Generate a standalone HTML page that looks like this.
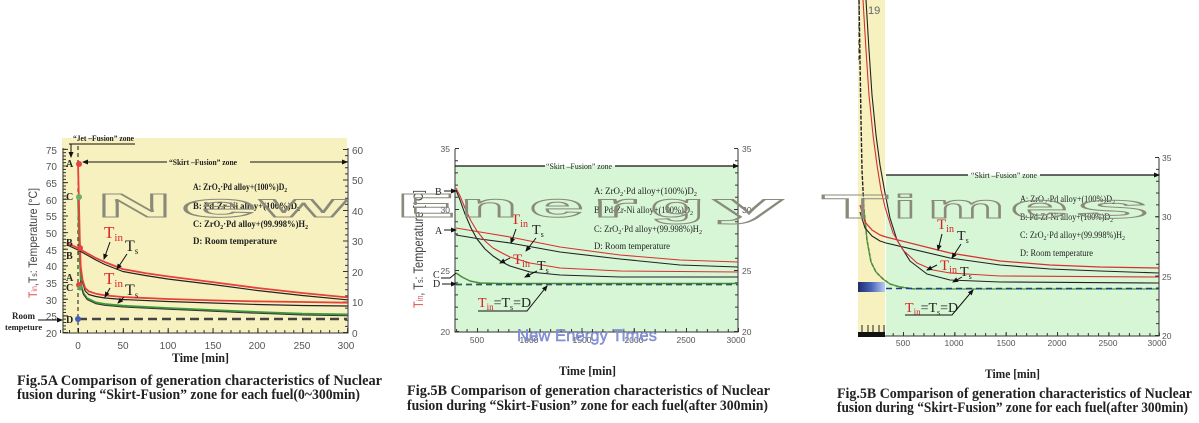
<!DOCTYPE html>
<html><head><meta charset="utf-8"><style>
html,body{margin:0;padding:0;background:#fff;}
svg{display:block;}
</style></head><body>
<svg width="1199" height="423" viewBox="0 0 1199 423" xmlns="http://www.w3.org/2000/svg">
<defs>
<marker id="ah" markerWidth="7" markerHeight="6" refX="6" refY="3" orient="auto" markerUnits="userSpaceOnUse"><path d="M0,0 L7,3 L0,6 z" fill="#111"/></marker>
<marker id="ahs" markerWidth="6" markerHeight="5" refX="5" refY="2.5" orient="auto" markerUnits="userSpaceOnUse"><path d="M0,0 L6,2.5 L0,5 z" fill="#111"/></marker>
<linearGradient id="bl" x1="0" x2="1" y1="0" y2="0"><stop offset="0" stop-color="#1e2c70"/><stop offset="0.5" stop-color="#4a66b8"/><stop offset="1" stop-color="#b8ccf2"/></linearGradient>
</defs>

<!-- ================= LEFT CHART (Fig.5A) ================= -->
<rect x="62" y="138" width="285" height="195" fill="#f6f1bf"/>
<g stroke="#333" fill="none">
  <line x1="63" y1="148" x2="63" y2="333.5" stroke-width="1"/>
  <line x1="348" y1="148" x2="348" y2="333.5" stroke-width="1"/>
  <line x1="63" y1="333" x2="348" y2="333" stroke-width="1"/>
  <line x1="64.5" y1="333" x2="64.5" y2="148" stroke-width="3" stroke-dasharray="1 2.33"/>
  <line x1="65.5" y1="333" x2="65.5" y2="148" stroke-width="5" stroke-dasharray="1 15.65"/>
  <line x1="346.5" y1="333" x2="346.5" y2="148" stroke-width="3" stroke-dasharray="1 5.1"/>
  <line x1="345.5" y1="333" x2="345.5" y2="148" stroke-width="5" stroke-dasharray="1 29.5"/>
  <line x1="60.06" y1="331.5" x2="349" y2="331.5" stroke-width="3" stroke-dasharray="1 7.97"/>
  <line x1="78" y1="330.5" x2="349" y2="330.5" stroke-width="5" stroke-dasharray="1 43.85"/>
</g>
<g font-family="Liberation Sans, sans-serif" font-size="10" fill="#555" text-anchor="end">
  <text x="57" y="154">75</text><text x="57" y="170">70</text><text x="57" y="187">65</text><text x="57" y="204">60</text>
  <text x="57" y="220">55</text><text x="57" y="237">50</text><text x="57" y="254">45</text><text x="57" y="270">40</text>
  <text x="57" y="287">35</text><text x="57" y="304">30</text><text x="57" y="320">25</text><text x="57" y="337">20</text>
</g>
<g font-family="Liberation Sans, sans-serif" font-size="10" fill="#555">
  <text x="352" y="154">60</text><text x="352" y="184">50</text><text x="352" y="215">40</text><text x="352" y="245">30</text>
  <text x="352" y="276">20</text><text x="352" y="306">10</text><text x="352" y="337">0</text>
</g>
<g font-family="Liberation Sans, sans-serif" font-size="10" fill="#555" text-anchor="middle">
  <text x="78" y="349">0</text><text x="123" y="349">50</text><text x="168" y="349">100</text><text x="213" y="349">150</text>
  <text x="257" y="349">200</text><text x="302" y="349">250</text><text x="346" y="349">300</text>
</g>
<text x="172" y="362" font-family="Liberation Serif, serif" font-weight="bold" font-size="13" fill="#222" textLength="57" lengthAdjust="spacingAndGlyphs">Time [min]</text>
<text transform="translate(37,243) rotate(-90)" text-anchor="middle" font-family="Liberation Sans, sans-serif" font-size="12" fill="#444" textLength="110" lengthAdjust="spacingAndGlyphs"><tspan fill="#e05050">T</tspan><tspan fill="#e05050" font-size="8">in</tspan>,T<tspan font-size="8">s</tspan>: Temperature [°C]</text>

<!-- top annotations -->
<text x="73" y="141" font-family="Liberation Serif, serif" font-weight="bold" font-size="8.5" fill="#222" textLength="61" lengthAdjust="spacingAndGlyphs">“Jet –Fusion” zone</text>
<line x1="69" y1="144" x2="135" y2="144" stroke="#111" stroke-width="1"/>
<line x1="71" y1="144" x2="71" y2="157" stroke="#111" stroke-width="1" marker-end="url(#ahs)"/>
<line x1="78" y1="146" x2="78" y2="333" stroke="#111" stroke-width="1" stroke-dasharray="4 3"/>
<text x="169" y="165" font-family="Liberation Serif, serif" font-weight="bold" font-size="8.5" fill="#222" textLength="68" lengthAdjust="spacingAndGlyphs">“Skirt –Fusion” zone</text>
<line x1="167" y1="162" x2="83" y2="162" stroke="#111" stroke-width="1" marker-end="url(#ahs)"/>
<line x1="250" y1="162" x2="347" y2="162" stroke="#111" stroke-width="1" marker-end="url(#ahs)"/>

<!-- legend -->
<g font-family="Liberation Serif, serif" font-weight="bold" font-size="9.5" fill="#222">
  <text x="193" y="190" textLength="94" lengthAdjust="spacingAndGlyphs">A: ZrO<tspan font-size="6.5" dy="2">2</tspan><tspan dy="-2">·Pd alloy+(100%)D</tspan><tspan font-size="6.5" dy="2">2</tspan></text>
  <text x="193" y="209" textLength="107" lengthAdjust="spacingAndGlyphs">B: Pd-Zr-Ni alloy+(100%)D<tspan font-size="6.5" dy="2">2</tspan></text>
  <text x="193" y="227" textLength="115" lengthAdjust="spacingAndGlyphs">C: ZrO<tspan font-size="6.5" dy="2">2</tspan><tspan dy="-2">·Pd alloy+(99.998%)H</tspan><tspan font-size="6.5" dy="2">2</tspan></text>
  <text x="193" y="244" textLength="84" lengthAdjust="spacingAndGlyphs">D: Room temperature</text>
</g>

<!-- curves left -->
<g fill="none" stroke-linejoin="round" stroke-linecap="round">
  <polyline stroke="#3a9a3a" stroke-width="1.8" points="78,196.5 78.9,233.1 79.8,259.7 80.7,279.7 81.6,286.4 83.4,293 87,298 95.9,302.4 104.9,304 122.9,305.7 167.7,308 212.6,310 257.4,312 302.3,313.7 347.1,314.4"/>
  <polyline stroke="#333" stroke-width="1" points="80.7,281 81.6,288 83.4,294.5 87,299.5 95.9,303.8 104.9,305.4 122.9,307 167.7,309.3 212.6,311.3 257.4,313.3 302.3,315 347.1,315.7"/>
  <polyline stroke="#222" stroke-width="1.2" points="80.7,268 82.5,282 85.2,291 88.8,294.5 95.9,296.5 104.9,298 122.9,299.5 167.7,301.5 212.6,303 257.4,304.5 302.3,305.5 347.1,306"/>
  <polyline stroke="#e8403a" stroke-width="1.8" points="78,163.2 78.9,199.8 79.8,239.8 80.7,266.4 82.5,279.7 85.2,288 88.8,291.4 95.9,293.7 104.9,295.4 122.9,297 167.7,299 212.6,300.4 257.4,301.4 302.3,302 347.1,302.7"/>
  <polyline stroke="#222" stroke-width="1.2" points="67.2,245 78,250 87,255 95.9,260 104.9,264.5 122.9,271.5 145.3,275.5 167.7,279 212.6,284.5 257.4,290.5 302.3,295.5 347.1,299.8"/>
  <polyline stroke="#e8403a" stroke-width="1.8" points="67.2,243.1 78,248.1 87,253.1 95.9,258.1 104.9,262.1 122.9,269.1 145.3,273.1 167.7,276.4 212.6,282.1 257.4,288 302.3,293 347.1,297.4"/>
</g>
<line x1="78" y1="319" x2="347" y2="319" stroke="#444" stroke-width="2.5" stroke-dasharray="9 5"/>
<circle cx="79" cy="164" r="3" fill="#e84040"/>
<circle cx="79" cy="197" r="3" fill="#6ab06a"/>
<circle cx="80" cy="248" r="3" fill="#e84040"/>
<circle cx="79" cy="285" r="3" fill="#e84040"/>
<circle cx="80" cy="288" r="2.5" fill="#5aa05a"/>
<circle cx="78" cy="319" r="3" fill="#4060c0"/>
<g font-family="Liberation Serif, serif" font-weight="bold" font-size="10" fill="#222">
  <text x="66" y="167">A</text><text x="66" y="200">C</text><text x="66" y="246">B</text><text x="66" y="259">B</text>
  <text x="66" y="281">A</text><text x="66" y="291">C</text><text x="66" y="323">D</text>
  <text x="12" y="319" font-size="9">Room</text><text x="5" y="330" font-size="8.5">tempeture</text>
</g>
<line x1="38" y1="320" x2="62" y2="320" stroke="#111" stroke-width="1" marker-end="url(#ahs)"/>
<!-- Tin / Ts labels left -->
<g font-family="Liberation Serif, serif">
  <text x="104" y="238" font-size="17" fill="#e02828">T<tspan font-size="11" dy="3">in</tspan></text>
  <text x="125" y="251" font-size="16" fill="#222">T<tspan font-size="9" dy="3">s</tspan></text>
  <text x="104" y="284" font-size="17" fill="#e02828">T<tspan font-size="11" dy="3">in</tspan></text>
  <text x="125" y="295" font-size="16" fill="#222">T<tspan font-size="9" dy="3">s</tspan></text>
</g>
<g stroke="#111" stroke-width="1">
  <line x1="110" y1="242" x2="104" y2="259" marker-end="url(#ahs)"/>
  <line x1="127" y1="254" x2="117" y2="269" marker-end="url(#ahs)"/>
  <line x1="110" y1="288" x2="105" y2="297" marker-end="url(#ahs)"/>
  <line x1="124" y1="297" x2="118" y2="303" marker-end="url(#ahs)"/>
</g>

<!-- captions left -->
<g font-family="Liberation Serif, serif" font-weight="bold" font-size="14.5" fill="#222">
  <text x="17" y="385" textLength="365" lengthAdjust="spacingAndGlyphs">Fig.5A  Comparison of generation characteristics of Nuclear</text>
  <text x="17" y="399" textLength="343" lengthAdjust="spacingAndGlyphs">fusion during “Skirt-Fusion” zone for each fuel(0~300min)</text>
</g>

<!-- ================= MIDDLE CHART (Fig.5B) ================= -->
<rect x="455" y="166" width="283" height="166" fill="#d7f6d6"/>
<g stroke="#333" fill="none">
  <line x1="455" y1="149" x2="455" y2="332.5" stroke-width="1"/>
  <line x1="738" y1="149" x2="738" y2="332.5" stroke-width="1"/>
  <line x1="455" y1="332" x2="738" y2="332" stroke-width="1"/>
  <line x1="456.5" y1="332" x2="456.5" y2="148" stroke-width="3" stroke-dasharray="1 11.2"/>
  <line x1="457" y1="332" x2="457" y2="148" stroke-width="4" stroke-dasharray="1 60"/>
  <line x1="736.5" y1="332" x2="736.5" y2="148" stroke-width="3" stroke-dasharray="1 11.2"/>
  <line x1="736" y1="332" x2="736" y2="148" stroke-width="4" stroke-dasharray="1 60"/>
  <line x1="456.1" y1="330.5" x2="739" y2="330.5" stroke-width="3" stroke-dasharray="1 9.45"/>
  <line x1="477" y1="330" x2="739" y2="330" stroke-width="4" stroke-dasharray="1 51.25"/>
</g>
<line x1="455" y1="166" x2="545" y2="166" stroke="#111" stroke-width="1.2"/>
<line x1="615" y1="166" x2="738" y2="166" stroke="#111" stroke-width="1.2" marker-end="url(#ahs)"/>
<text x="546" y="169" font-family="Liberation Serif, serif" font-size="8.5" fill="#222" textLength="66" lengthAdjust="spacingAndGlyphs">“Skirt –Fusion” zone</text>
<g font-family="Liberation Sans, sans-serif" font-size="8.5" fill="#555">
  <text x="450" y="152" text-anchor="end">35</text><text x="450" y="213" text-anchor="end">30</text>
  <text x="450" y="274" text-anchor="end">25</text><text x="450" y="335" text-anchor="end">20</text>
  <text x="742" y="152">35</text><text x="742" y="213">30</text><text x="742" y="274">25</text><text x="742" y="335">20</text>
</g>
<g font-family="Liberation Sans, sans-serif" font-size="8.5" fill="#555" text-anchor="middle">
  <text x="477" y="343">500</text><text x="529" y="343">1000</text><text x="582" y="343">1500</text>
  <text x="634" y="343">2000</text><text x="686" y="343">2500</text><text x="736" y="343">3000</text>
</g>
<text x="559" y="375" font-family="Liberation Serif, serif" font-weight="bold" font-size="13" fill="#222" textLength="57" lengthAdjust="spacingAndGlyphs">Time [min]</text>
<text transform="translate(423,249) rotate(-90)" text-anchor="middle" font-family="Liberation Sans, sans-serif" font-size="14" fill="#444" textLength="118" lengthAdjust="spacingAndGlyphs"><tspan fill="#e05050">T</tspan><tspan fill="#e05050" font-size="9">in</tspan>, T<tspan font-size="9">s</tspan>: Temperature [°C]</text>

<g font-family="Liberation Serif, serif" font-size="9" fill="#222">
  <text x="594" y="194" textLength="103" lengthAdjust="spacingAndGlyphs">A: ZrO<tspan font-size="6.5" dy="2">2</tspan><tspan dy="-2">·Pd alloy+(100%)D</tspan><tspan font-size="6.5" dy="2">2</tspan></text>
  <text x="594" y="213" textLength="99" lengthAdjust="spacingAndGlyphs">B: Pd-Zr-Ni alloy+(100%)D<tspan font-size="6.5" dy="2">2</tspan></text>
  <text x="594" y="232" textLength="108" lengthAdjust="spacingAndGlyphs">C: ZrO<tspan font-size="6.5" dy="2">2</tspan><tspan dy="-2">·Pd alloy+(99.998%)H</tspan><tspan font-size="6.5" dy="2">2</tspan></text>
  <text x="594" y="249" textLength="76" lengthAdjust="spacingAndGlyphs">D: Room temperature</text>
</g>

<g fill="none" stroke-linejoin="round" stroke-width="1.1">
  <polyline stroke="#4a8a3a" stroke-width="1.5" points="456,273 462,277 470,281 480,283 500,283.5 738,283.5"/>
  <polyline stroke="#222" points="456,235 480,239 510,243 560,252 620,259 680,265 738,267"/>
  <polyline stroke="#d83030" points="456,228 480,232 510,237 560,247 620,255 680,260 738,262"/>
  <polyline stroke="#222" points="456,190 460,200 465,214 471,228 477,239 485,249 493,256 502,262 510,266 530,272 560,275 620,277 738,277"/>
  <polyline stroke="#d83030" points="456,188 460,196 465,208 471,221 477,231 485,241 493,248 502,253 510,257 530,263 560,268 620,271 738,272"/>
</g>
<line x1="456" y1="284.5" x2="738" y2="284.5" stroke="#2f5a5a" stroke-width="1.8" stroke-dasharray="6 4"/>
<g font-family="Liberation Serif, serif" font-size="10" fill="#222">
  <text x="435" y="195">B</text><text x="435" y="234">A</text><text x="433" y="278">C</text><text x="433" y="287">D</text>
</g>
<g stroke="#111" stroke-width="1">
  <line x1="444" y1="191" x2="456" y2="191" marker-end="url(#ahs)"/>
  <line x1="444" y1="230" x2="456" y2="230" marker-end="url(#ahs)"/>
  <polyline fill="none" points="441,278 450,278 456,273"/>
  <line x1="442" y1="284" x2="456" y2="284" marker-end="url(#ahs)"/>
</g>
<g font-family="Liberation Serif, serif">
  <text x="511" y="224" font-size="15" fill="#d82020">T<tspan font-size="10" dy="3">in</tspan></text>
  <text x="532" y="234" font-size="14" fill="#222">T<tspan font-size="8" dy="3">s</tspan></text>
  <text x="513" y="264" font-size="15" fill="#d82020">T<tspan font-size="10" dy="3">in</tspan></text>
  <text x="537" y="270" font-size="14" fill="#222">T<tspan font-size="8" dy="3">s</tspan></text>
  <text x="478" y="307" font-size="14" fill="#222"><tspan fill="#d82020">T</tspan><tspan fill="#d82020" font-size="9" dy="3">in</tspan><tspan dy="-3">=T</tspan><tspan font-size="8" dy="3">s</tspan><tspan dy="-3">=D</tspan></text>
</g>
<g stroke="#111" stroke-width="1" fill="none">
  <line x1="516" y1="229" x2="511" y2="243" marker-end="url(#ahs)"/>
  <line x1="536" y1="238" x2="526" y2="251" marker-end="url(#ahs)"/>
  <line x1="510" y1="258" x2="500" y2="263" marker-end="url(#ahs)"/>
  <line x1="537" y1="271" x2="525" y2="277" marker-end="url(#ahs)"/>
  <polyline points="478,311 527,311 547,286" marker-end="url(#ahs)"/>
</g>
<g font-family="Liberation Serif, serif" font-weight="bold" font-size="14.5" fill="#222">
  <text x="407" y="395" textLength="363" lengthAdjust="spacingAndGlyphs">Fig.5B  Comparison of generation characteristics of Nuclear</text>
  <text x="407" y="410" textLength="361" lengthAdjust="spacingAndGlyphs">fusion during “Skirt-Fusion” zone for each fuel(after 300min)</text>
</g>

<!-- ================= RIGHT CHART ================= -->
<rect x="858" y="0" width="27" height="332" fill="#f6f1bf"/>
<rect x="886" y="175" width="273" height="161" fill="#d7f6d6"/>
<rect x="858" y="332" width="27" height="5" fill="#111"/>
<g stroke="#222" stroke-width="1">
  <line x1="862" y1="325" x2="862" y2="332"/><line x1="868" y1="325" x2="868" y2="332"/>
  <line x1="873" y1="325" x2="873" y2="332"/><line x1="879" y1="325" x2="879" y2="332"/><line x1="884" y1="325" x2="884" y2="332"/>
</g>
<rect x="858" y="282" width="27" height="10" fill="url(#bl)"/>
<text x="868" y="14" font-family="Liberation Sans, sans-serif" font-size="11" fill="#666">19</text>
<line x1="859" y1="0" x2="859" y2="60" stroke="#333" stroke-width="1" stroke-dasharray="5 3"/>
<g stroke="#333" fill="none">
  <line x1="1159" y1="158" x2="1159" y2="336.5" stroke-width="1"/>
  <line x1="885" y1="336" x2="1159" y2="336" stroke-width="1"/>
  <line x1="1157.5" y1="336" x2="1157.5" y2="157" stroke-width="3" stroke-dasharray="1 10.87"/>
  <line x1="1157" y1="336" x2="1157" y2="157" stroke-width="4" stroke-dasharray="1 58.35"/>
  <line x1="892.7" y1="334.5" x2="1160" y2="334.5" stroke-width="3" stroke-dasharray="1 9.27"/>
  <line x1="903" y1="334" x2="1160" y2="334" stroke-width="4" stroke-dasharray="1 50.35"/>
</g>
<line x1="886" y1="175" x2="968" y2="175" stroke="#111" stroke-width="1.2"/>
<line x1="1040" y1="175" x2="1159" y2="175" stroke="#111" stroke-width="1.2" marker-end="url(#ahs)"/>
<text x="971" y="178" font-family="Liberation Serif, serif" font-size="8.5" fill="#222" textLength="66" lengthAdjust="spacingAndGlyphs">“Skirt –Fusion” zone</text>
<g font-family="Liberation Sans, sans-serif" font-size="8.5" fill="#555">
  <text x="1162" y="161">35</text><text x="1162" y="220">30</text><text x="1162" y="280">25</text><text x="1162" y="339">20</text>
</g>
<g font-family="Liberation Sans, sans-serif" font-size="8.5" fill="#555" text-anchor="middle">
  <text x="903" y="346">500</text><text x="954" y="346">1000</text><text x="1006" y="346">1500</text>
  <text x="1057" y="346">2000</text><text x="1108" y="346">2500</text><text x="1157" y="346">3000</text>
</g>
<text x="985" y="378" font-family="Liberation Serif, serif" font-weight="bold" font-size="13" fill="#222" textLength="55" lengthAdjust="spacingAndGlyphs">Time [min]</text>
<g font-family="Liberation Serif, serif" font-size="9" fill="#222">
  <text x="1020" y="202" textLength="95" lengthAdjust="spacingAndGlyphs">A: ZrO<tspan font-size="6.5" dy="2">2</tspan><tspan dy="-2">·Pd alloy+(100%)D</tspan><tspan font-size="6.5" dy="2">2</tspan></text>
  <text x="1020" y="220" textLength="93" lengthAdjust="spacingAndGlyphs">B: Pd-Zr-Ni alloy+(100%)D<tspan font-size="6.5" dy="2">2</tspan></text>
  <text x="1020" y="238" textLength="105" lengthAdjust="spacingAndGlyphs">C: ZrO<tspan font-size="6.5" dy="2">2</tspan><tspan dy="-2">·Pd alloy+(99.998%)H</tspan><tspan font-size="6.5" dy="2">2</tspan></text>
  <text x="1020" y="256" textLength="73" lengthAdjust="spacingAndGlyphs">D: Room temperature</text>
</g>
<g fill="none" stroke-linejoin="round" stroke-width="1.1">
  <polyline stroke="#222" stroke-dasharray="4 1.5" stroke-width="1.4" points="859,0 860,60 861,120 862,170 864,210 867,240 871,262 876,272 883,279 890,284 900,287 915,289"/>
  <polyline stroke="#4a9a3a" stroke-width="1.2" points="864,210 867,240 871,262 876,272 883,279 890,284 900,287 915,289 1159,289"/>
  <polyline stroke="#222" points="860,212 865,228 872,236 880,241 886,243 950,258 1000,265 1050,269 1100,271 1159,273"/>
  <polyline stroke="#d83030" stroke-width="1.3" points="860,205 865,222 872,230 880,235 886,237 950,253 1000,261 1050,265 1100,267 1159,268"/>
  <polyline stroke="#222" points="866,0 869,50 872,95 876,135 880,165 885,193 890,218 897,240 910,261 927,274 950,280 1000,282 1159,283"/>
  <polyline stroke="#d83030" points="863,0 866,50 869,95 873,135 877,165 881,190 885,207 893,233 903,250 917,263 933,270 950,273 1000,276 1159,277"/>
</g>
<line x1="886" y1="288.5" x2="1159" y2="288.5" stroke="#2a3a8a" stroke-width="1.6" stroke-dasharray="6 4"/>
<g font-family="Liberation Serif, serif">
  <text x="937" y="229" font-size="15" fill="#d82020">T<tspan font-size="10" dy="3">in</tspan></text>
  <text x="957" y="240" font-size="14" fill="#222">T<tspan font-size="8" dy="3">s</tspan></text>
  <text x="940" y="270" font-size="15" fill="#d82020">T<tspan font-size="10" dy="3">in</tspan></text>
  <text x="960" y="276" font-size="14" fill="#222">T<tspan font-size="8" dy="3">s</tspan></text>
  <text x="905" y="312" font-size="14" fill="#222"><tspan fill="#d82020">T</tspan><tspan fill="#d82020" font-size="9" dy="3">in</tspan><tspan dy="-3">=T</tspan><tspan font-size="8" dy="3">s</tspan><tspan dy="-3">=D</tspan></text>
</g>
<g stroke="#111" stroke-width="1" fill="none">
  <line x1="942" y1="234" x2="938" y2="250" marker-end="url(#ahs)"/>
  <line x1="961" y1="244" x2="952" y2="258" marker-end="url(#ahs)"/>
  <line x1="937" y1="265" x2="927" y2="270" marker-end="url(#ahs)"/>
  <line x1="962" y1="277" x2="953" y2="282" marker-end="url(#ahs)"/>
  <polyline points="905,315 952,315 973,290" marker-end="url(#ahs)"/>
</g>
<g font-family="Liberation Serif, serif" font-weight="bold" font-size="14.5" fill="#222">
  <text x="837" y="398" textLength="355" lengthAdjust="spacingAndGlyphs">Fig.5B  Comparison of generation characteristics of Nuclear</text>
  <text x="837" y="412" textLength="351" lengthAdjust="spacingAndGlyphs">fusion during “Skirt-Fusion” zone for each fuel(after 300min)</text>
</g>

<!-- ================= WATERMARK ================= -->
<g font-family="Liberation Sans, sans-serif" font-weight="bold" font-size="33" fill="none" stroke="#8a8a7c" stroke-width="1">
  <text x="97" y="217" textLength="75" lengthAdjust="spacingAndGlyphs">N</text>
  <text x="180" y="217" textLength="77" lengthAdjust="spacingAndGlyphs">e</text>
  <text x="260" y="217" textLength="87" lengthAdjust="spacingAndGlyphs">w</text>
  <text x="397" y="217" textLength="58" lengthAdjust="spacingAndGlyphs">E</text>
  <text x="460" y="217" textLength="58" lengthAdjust="spacingAndGlyphs">n</text>
  <text x="529" y="217" textLength="55" lengthAdjust="spacingAndGlyphs">e</text>
  <text x="592" y="217" textLength="45" lengthAdjust="spacingAndGlyphs">r</text>
  <text x="650" y="217" textLength="55" lengthAdjust="spacingAndGlyphs">g</text>
  <text x="713" y="217" textLength="70" lengthAdjust="spacingAndGlyphs">y</text>
  <text x="822" y="218" textLength="66" lengthAdjust="spacingAndGlyphs">T</text>
  <text x="893" y="218" textLength="24" lengthAdjust="spacingAndGlyphs">i</text>
  <text x="927" y="218" textLength="78" lengthAdjust="spacingAndGlyphs">m</text>
  <text x="1010" y="218" textLength="58" lengthAdjust="spacingAndGlyphs">e</text>
  <text x="1075" y="218" textLength="75" lengthAdjust="spacingAndGlyphs">s</text>
</g>
<text x="517" y="341" font-family="Liberation Sans, sans-serif" font-size="17" fill="#8a96d8" stroke="#6f7fc8" stroke-width="0.4" textLength="140" lengthAdjust="spacingAndGlyphs">New Energy Times</text>
</svg>
</body></html>
